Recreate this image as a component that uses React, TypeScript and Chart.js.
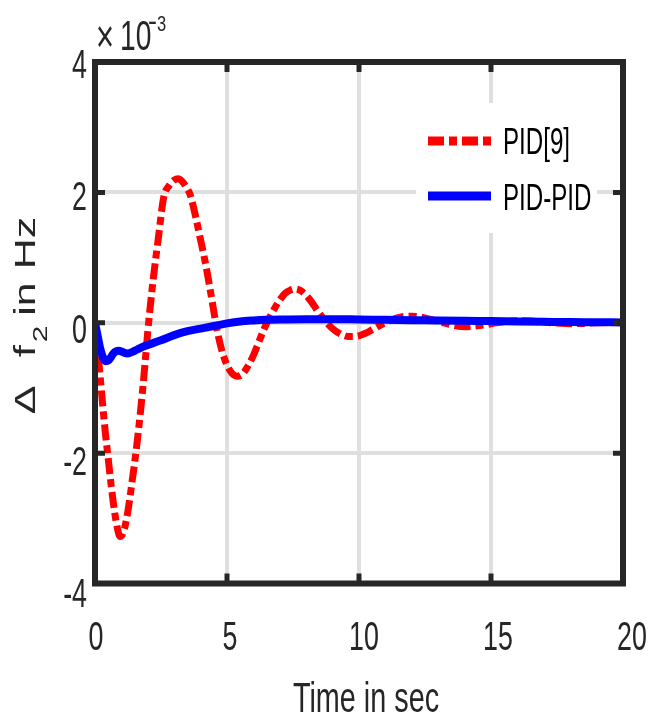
import React, { useEffect, useRef } from "react";
import { Chart, registerables } from "chart.js";

Chart.register(...registerables);

// Time axis (s) and values (x 10^-3 Hz)
const redT = [0, 0.1, 0.2, 0.3, 0.4, 0.5, 0.6, 0.7, 0.8, 0.9, 0.95, 1.0, 1.1, 1.2, 1.3, 1.4, 1.5, 1.6, 1.7, 1.8, 1.9, 2.0, 2.2, 2.4, 2.6, 2.8, 3.0, 3.15, 3.3, 3.5, 3.6, 3.8, 4.0, 4.2, 4.4, 4.6, 4.8, 5.0, 5.2, 5.4, 5.6, 5.8, 6.0, 6.2, 6.4, 6.6, 6.8, 7.0, 7.2, 7.4, 7.6, 7.8, 8.0, 8.2, 8.4, 8.6, 8.8, 9.0, 9.2, 9.4, 9.6, 9.8, 10.0, 10.2, 10.4, 10.8, 11.2, 11.6, 12.0, 12.4, 12.8, 13.2, 13.6, 14.0, 14.4, 14.8, 15.2, 15.6, 16.0, 16.5, 17.0, 17.5, 18.0, 18.5, 19.0, 19.5, 20];
const redV = [0, -0.4, -0.85, -1.3, -1.72, -2.08, -2.45, -2.78, -3.05, -3.24, -3.28, -3.27, -3.18, -3.0, -2.75, -2.45, -2.15, -1.82, -1.45, -1.05, -0.6, -0.13, 0.65, 1.3, 1.92, 2.1, 2.19, 2.21, 2.17, 2.05, 1.97, 1.65, 1.27, 0.88, 0.42, -0.06, -0.42, -0.65, -0.78, -0.82, -0.78, -0.66, -0.5, -0.3, -0.1, 0.07, 0.22, 0.35, 0.45, 0.5, 0.52, 0.49, 0.42, 0.32, 0.2, 0.09, -0.01, -0.09, -0.15, -0.19, -0.21, -0.21, -0.2, -0.17, -0.13, -0.04, 0.04, 0.09, 0.1, 0.08, 0.04, 0.0, -0.04, -0.06, -0.05, -0.03, 0.0, 0.02, 0.03, 0.025, 0.01, -0.005, -0.015, -0.01, 0.0, 0.005, 0.005];

const blueT = [0, 0.1, 0.2, 0.3, 0.4, 0.5, 0.6, 0.7, 0.8, 0.9, 1.0, 1.1, 1.25, 1.4, 1.6, 1.8, 2.0, 2.5, 3.0, 3.5, 4.0, 4.5, 5.0, 5.5, 6.0, 6.5, 7.0, 8.0, 9.0, 10.0, 11.0, 12.0, 13.0, 14.0, 15.0, 16.0, 17.0, 18.0, 19.0, 20.0];
const blueV = [0, -0.2, -0.4, -0.53, -0.59, -0.58, -0.53, -0.47, -0.44, -0.43, -0.44, -0.46, -0.47, -0.45, -0.41, -0.37, -0.34, -0.27, -0.19, -0.13, -0.09, -0.05, -0.01, 0.02, 0.035, 0.045, 0.05, 0.055, 0.055, 0.05, 0.045, 0.04, 0.035, 0.03, 0.025, 0.02, 0.015, 0.01, 0.008, 0.005];

const xTicks = [0, 5, 10, 15, 20];
const yTicks = [4, 2, 0, -2, -4];
const seriesNames = ["PID[9]", "PID-PID"];
const xTitle = "Time in sec";

const FONT = '"Liberation Sans", Arial, sans-serif';
const SX = 0.67;
const FRAME = "#262626";

function txt(ctx: CanvasRenderingContext2D, s: string, x: number, y: number, size: number, align: CanvasTextAlign, color = "#262626", sx = SX) {
  ctx.save();
  ctx.translate(x, y);
  ctx.scale(sx, 1);
  ctx.font = `${size}px ${FONT}`;
  ctx.textAlign = align;
  ctx.textBaseline = "alphabetic";
  ctx.fillStyle = color;
  ctx.fillText(s, 0, 0);
  ctx.restore();
}

function rtxt(ctx: CanvasRenderingContext2D, s: string, x: number, y: number, size: number) {
  ctx.save();
  ctx.translate(x, y);
  ctx.scale(SX, 1);
  ctx.rotate(-Math.PI / 2);
  ctx.font = `${size}px ${FONT}`;
  ctx.textAlign = "center";
  ctx.textBaseline = "alphabetic";
  ctx.fillStyle = "#262626";
  ctx.fillText(s, 0, 0);
  ctx.restore();
}

const decor = {
  id: "decor",
  afterDraw(chart: any) {
    const ctx: CanvasRenderingContext2D = chart.ctx;
    const { left, right, top, bottom } = chart.chartArea;
    const xs = chart.scales.x;
    const ys = chart.scales.y;

    // tick marks
    ctx.save();
    ctx.strokeStyle = FRAME;
    ctx.lineWidth = 5;
    ctx.lineCap = "butt";
    const tl = 10;
    xTicks.forEach((v) => {
      const px = xs.getPixelForValue(v);
      ctx.beginPath();
      ctx.moveTo(px, bottom);
      ctx.lineTo(px, bottom - tl);
      ctx.moveTo(px, top);
      ctx.lineTo(px, top + tl);
      ctx.stroke();
    });
    yTicks.forEach((v) => {
      const py = ys.getPixelForValue(v);
      ctx.beginPath();
      ctx.moveTo(left, py);
      ctx.lineTo(left + tl, py);
      ctx.moveTo(right, py);
      ctx.lineTo(right - tl, py);
      ctx.stroke();
    });
    // frame
    ctx.lineWidth = 6;
    ctx.lineJoin = "miter";
    ctx.strokeRect(left, top, right - left, bottom - top);
    ctx.restore();

    // tick labels
    xTicks.forEach((v) => {
      const px = xs.getPixelForValue(v);
      const lx = left + (px - left) * 1.015 + 1;
      txt(ctx, String(v), lx, 650, 40, "center");
    });
    yTicks.forEach((v) => {
      const py = ys.getPixelForValue(v);
      const ly = top + (py - top) * 1.015 + 2;
      txt(ctx, String(v), 87, ly + 14, 40, "right");
    });

    // exponent label
    txt(ctx, "\u00d7", 96, 52, 46, "left");
    txt(ctx, "10", 120, 50, 42, "left");
    txt(ctx, "-", 148, 31, 30, "left", "#262626", 0.9);
    txt(ctx, "3", 157, 31, 22, "left", "#262626", 0.75);

    // x title
    txt(ctx, xTitle, 366, 712, 43, "center");

    // y title (rotated)
    rtxt(ctx, "\u0394", 35, 400, 43);
    rtxt(ctx, "f", 35, 351, 43);
    rtxt(ctx, "2", 47, 334, 30);
    rtxt(ctx, "in", 35, 299, 43);
    rtxt(ctx, "Hz", 35, 243, 43);

    // legend
    ctx.save();
    ctx.fillStyle = "#ffffff";
    ctx.fillRect(416, 103, 181, 130);
    ctx.lineCap = "butt";
    ctx.lineWidth = 9;
    ctx.strokeStyle = "#ff0000";
    ctx.setLineDash([16, 5, 8, 5]);
    ctx.beginPath();
    ctx.moveTo(428, 141);
    ctx.lineTo(491, 141);
    ctx.stroke();
    ctx.setLineDash([]);
    ctx.strokeStyle = "#0000ff";
    ctx.beginPath();
    ctx.moveTo(428, 196);
    ctx.lineTo(491, 196);
    ctx.stroke();
    ctx.restore();
    txt(ctx, seriesNames[0], 503, 154, 36, "left", "#000000");
    txt(ctx, seriesNames[1], 503, 210, 36, "left", "#000000");
  },
};

export default function App() {
  const ref = useRef<HTMLCanvasElement>(null);
  useEffect(() => {
    if (!ref.current) return;
    const chart = new Chart(ref.current, {
      type: "line",
      data: {
        datasets: [
          {
            label: seriesNames[0],
            data: redT.map((t, i) => ({ x: t, y: redV[i] })),
            borderColor: "#ff0000",
            borderWidth: 7,
            borderDash: [16, 5, 8, 5],
            borderCapStyle: "butt",
            pointRadius: 0,
            cubicInterpolationMode: "monotone",
            fill: false,
            order: 2,
          },
          {
            label: seriesNames[1],
            data: blueT.map((t, i) => ({ x: t, y: blueV[i] })),
            borderColor: "#0000ff",
            borderWidth: 8,
            borderJoinStyle: "round",
            pointRadius: 0,
            cubicInterpolationMode: "monotone",
            fill: false,
            order: 1,
          },
        ],
      },
      options: {
        animation: false,
        responsive: false,
        devicePixelRatio: 1,
        layout: { padding: { left: 95, right: 32, top: 62, bottom: 133.5 } },
        plugins: { legend: { display: false }, tooltip: { enabled: false } },
        scales: {
          x: {
            type: "linear",
            min: 0,
            max: 20,
            ticks: { display: false, stepSize: 5 },
            grid: { color: "#dfdfdf", lineWidth: 4, drawTicks: false },
            border: { display: false },
          },
          y: {
            type: "linear",
            min: -4,
            max: 4,
            ticks: { display: false, stepSize: 2 },
            grid: { color: "#dfdfdf", lineWidth: 4, drawTicks: false },
            border: { display: false },
          },
        },
      },
      plugins: [decor],
    } as any);
    return () => chart.destroy();
  }, []);
  return (
    <div style={{ position: "absolute", left: 0, top: 0, width: 655, height: 717, background: "#ffffff" }}>
      <canvas ref={ref} width={655} height={717} style={{ width: 655, height: 717, display: "block" }} />
    </div>
  );
}
